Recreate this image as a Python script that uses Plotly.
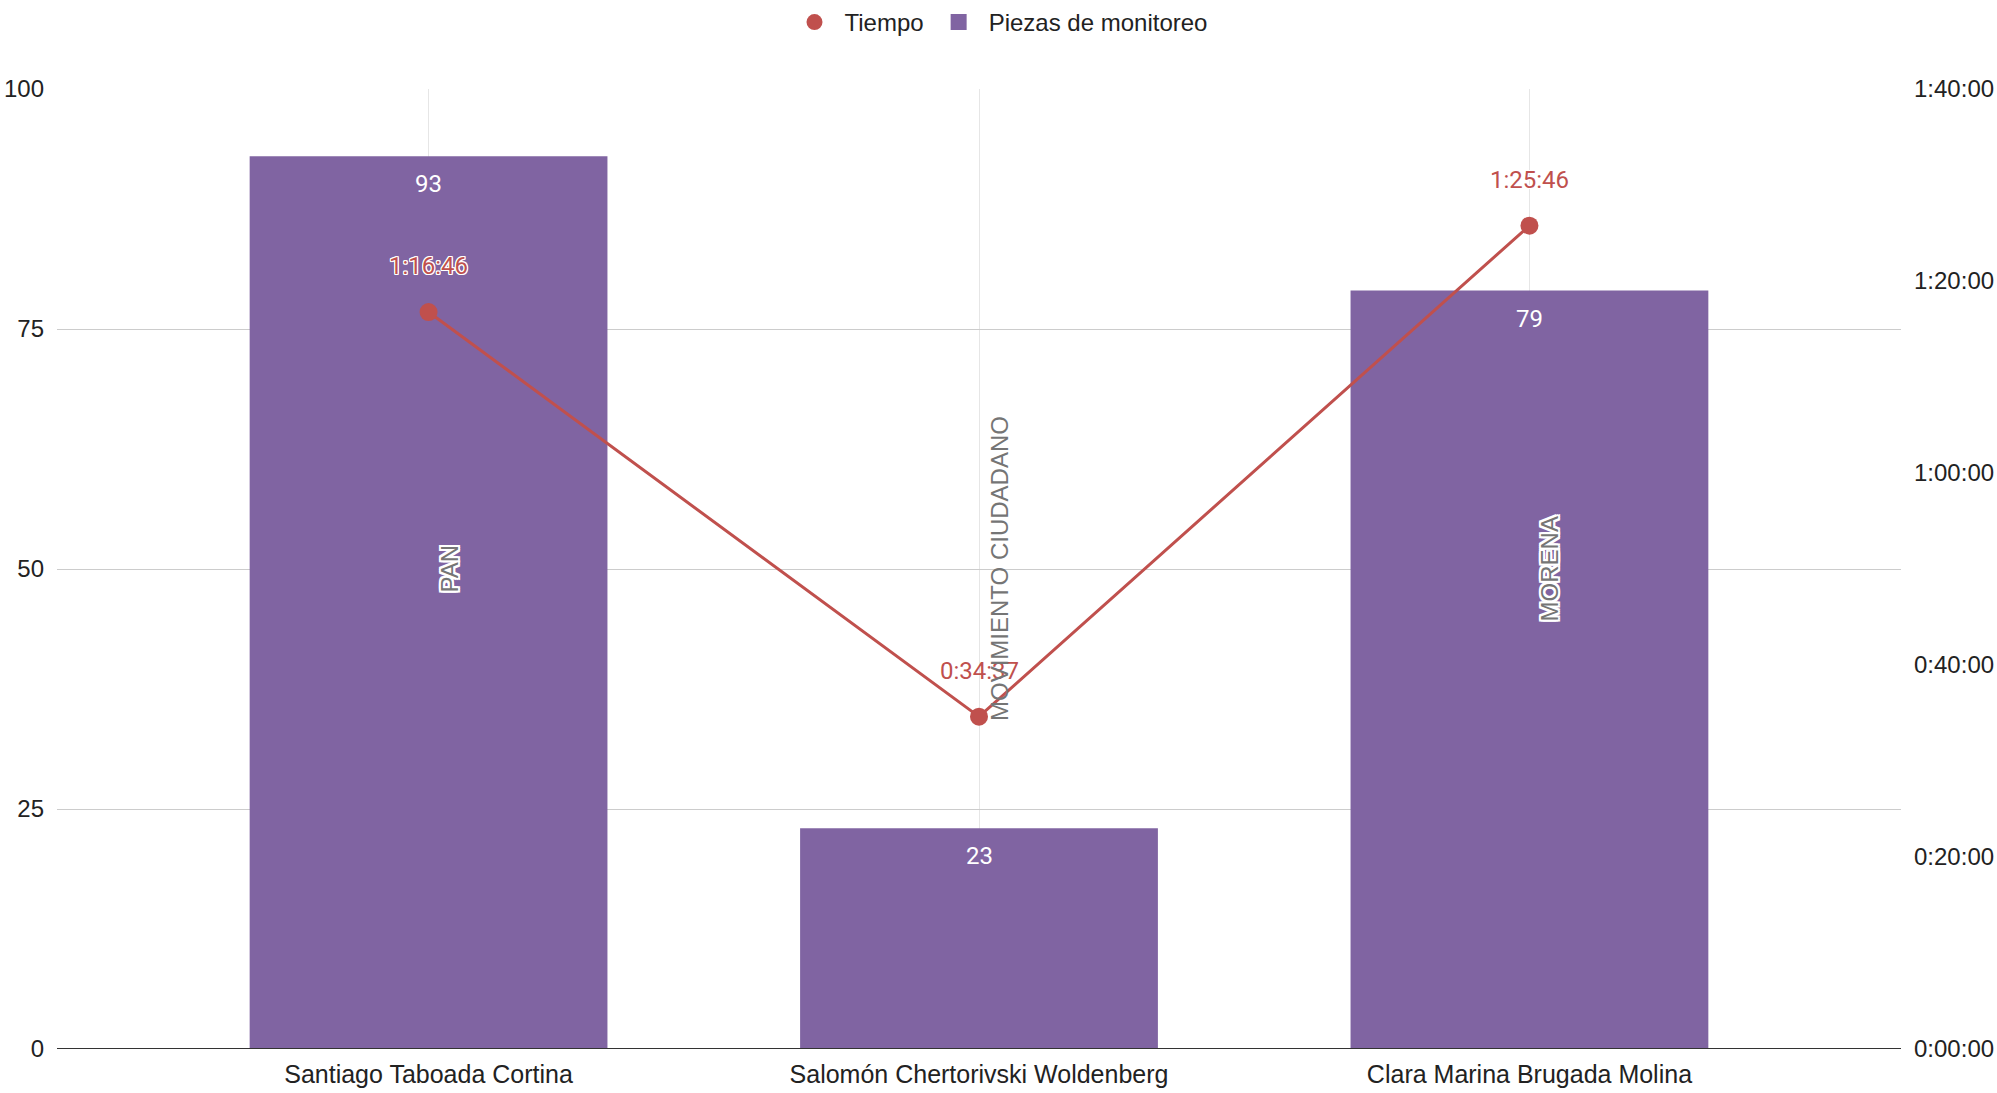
import plotly.graph_objects as go

categories = ["Santiago Taboada Cortina", "Salomón Chertorivski Woldenberg", "Clara Marina Brugada Molina"]
piezas = [93, 23, 79]
tiempo = ["1:16:46", "0:34:37", "1:25:46"]
partidos = ["PAN", "MOVIMIENTO CIUDADANO", "MORENA"]
partido_on_bar = [True, False, True]
y2_tick_minutes = [0, 20, 40, 60, 80, 100]


def to_sec(t):
    h, m, s = [int(v) for v in t.split(":")]
    return h * 3600 + m * 60 + s


def fmt(sec):
    return f"{sec // 3600}:{(sec % 3600) // 60:02d}:{sec % 60:02d}"


tiempo_sec = [to_sec(t) for t in tiempo]
y2_ticks = [m * 60 for m in y2_tick_minutes]

PURPLE = "#8064A2"
RED = "#C0504D"
AX_FONT = "Arial, 'Liberation Sans', sans-serif"
LBL_FONT = "Roboto"
FS = 24
halo1 = ("1px 1px 0 white, -1px -1px 0 white, 1px -1px 0 white, -1px 1px 0 white, "
         "0 1px 0 white, 0 -1px 0 white, 1px 0 0 white, -1px 0 0 white")
halo2 = ("2px 2px 0 white, -2px -2px 0 white, 2px -2px 0 white, -2px 2px 0 white, "
         "0 2px 0 white, 0 -2px 0 white, 2px 0 0 white, -2px 0 0 white, "
         "1px 1px 0 white, -1px -1px 0 white, 1px -1px 0 white, -1px 1px 0 white")

fig = go.Figure()

# legend-only entries
fig.add_trace(go.Scatter(x=[None], y=[None], mode="markers", name="Tiempo",
                         marker=dict(color=RED, size=16, symbol="circle"),
                         yaxis="y2", legendrank=1))
fig.add_trace(go.Scatter(x=[None], y=[None], mode="markers", name="Piezas de monitoreo",
                         marker=dict(color=PURPLE, size=16, symbol="square"),
                         legendrank=2))

fig.add_trace(go.Bar(x=categories, y=piezas, name="Piezas de monitoreo",
                     marker=dict(color=PURPLE, line=dict(width=0)),
                     width=0.65, showlegend=False))

fig.add_trace(go.Scatter(x=categories, y=tiempo_sec, mode="lines+markers", name="Tiempo",
                         line=dict(color=RED, width=3), marker=dict(color=RED, size=18),
                         yaxis="y2", showlegend=False))

annotations = []
for c, v in zip(categories, piezas):
    annotations.append(dict(x=c, y=v, xref="x", yref="y", text=str(v), showarrow=False,
                            yshift=-28, font=dict(family=LBL_FONT, size=FS, color="white")))
for c, s, on_bar in zip(categories, tiempo_sec, partido_on_bar):
    f = dict(family=LBL_FONT, size=FS, color=RED)
    if on_bar:
        f["shadow"] = halo1
    annotations.append(dict(x=c, y=s, xref="x", yref="y2", text=fmt(s), showarrow=False,
                            yshift=46, font=f))
for c, p, on_bar in zip(categories, partidos, partido_on_bar):
    f = dict(family=AX_FONT, size=FS, color="#757575")
    if on_bar:
        f["shadow"] = halo2
    annotations.append(dict(x=c, y=50, xref="x", yref="y", text=p, showarrow=False,
                            textangle=-90, xshift=20, font=f))

fig.update_layout(
    width=1997, height=1093,
    paper_bgcolor="white", plot_bgcolor="white",
    margin=dict(l=57, r=96, t=89, b=44, autoexpand=False),
    font=dict(family=AX_FONT, size=FS, color="#222222"),
    showlegend=True,
    legend=dict(orientation="h", x=0.5, xanchor="center", y=1.0, yanchor="top",
                xref="container", yref="container", font=dict(size=FS, color="#222222"),
                itemsizing="trace", itemwidth=50),
    bargap=0.35,
    xaxis=dict(type="category", range=[-0.675, 2.675], showgrid=True, gridcolor="#e6e6e6",
               gridwidth=1, showline=False, zeroline=False, ticks="", automargin=False,
               tickfont=dict(size=25), ticklabelstandoff=8),
    yaxis=dict(range=[0, 100], tickvals=[0, 25, 50, 75, 100], showgrid=True,
               gridcolor="#cccccc", gridwidth=1, zeroline=False, showline=False,
               ticks="", automargin=False, tickfont=dict(size=FS), ticklabelstandoff=12),
    yaxis2=dict(range=[0, 6000], overlaying="y", side="right", tickvals=y2_ticks,
                ticktext=[fmt(t) for t in y2_ticks], showgrid=False, zeroline=False,
                showline=False, ticks="", automargin=False, tickfont=dict(size=FS),
                ticklabelstandoff=12),
    annotations=annotations,
    shapes=[dict(type="line", xref="paper", yref="y", x0=0, x1=1, y0=0, y1=0,
                 line=dict(color="#333333", width=2))],
)

fig.write_html("out.html", config={"displayModeBar": False},
               post_script="document.body.style.margin='0';")
